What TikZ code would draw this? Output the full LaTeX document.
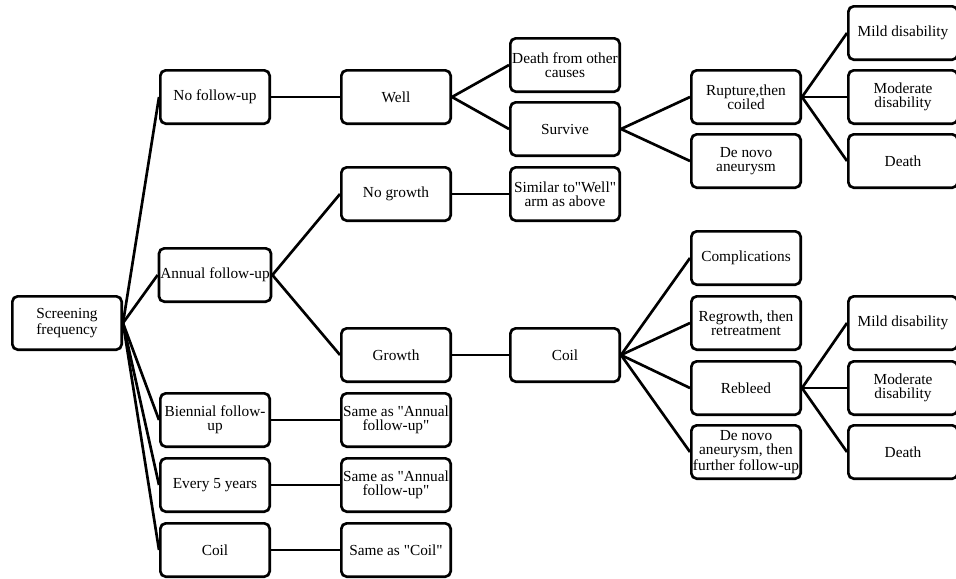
\documentclass[tikz,border=0pt]{standalone}
\usepackage{fontspec}
\setmainfont{Liberation Serif}[Ligatures=TeXOff]
\usetikzlibrary{positioning}
\definecolor{EdgeBlack}{RGB}{0,0,0}
\tikzset{
  box/.style={draw=EdgeBlack,rounded corners=4pt,line width=2pt,
    minimum width=82pt,minimum height=40pt,inner sep=1pt,align=center,
    font=\fontsize{11.5}{10.5}\selectfont},
  link/.style={line width=2pt,EdgeBlack}
}

\begin{document}
\begin{tikzpicture}[x=0.75pt,y=-0.75pt]
  \useasboundingbox (0,0) rectangle (956,578);

  % first level
  \node[box] (freq) at (67,323) {Screening\\frequency};
  \node[box] (nofollow) at (215,97) {No follow-up};
  \node[box] (annual) at (215,275) {Annual follow-up};
  \node[box] (biennial) at (215,420) {Biennial follow-\\up};
  \node[box] (fiveyears) at (215,485) {Every 5 years};
  \node[box] (coilnow) at (215,550) {Coil};

  % second level
  \node[box] (well) at (396,97) {Well};
  \node[box] (nogrowth) at (396,194) {No growth};
  \node[box] (growth) at (396,355) {Growth};
  \node[box] (samebien) at (396,420) {Same as "Annual\\follow-up"};
  \node[box] (samefive) at (396,485) {Same as "Annual\\follow-up"};
  \node[box] (samecoil) at (396,550) {Same as "Coil"};

  % third level
  \node[box] (otherdeath) at (565,65) {Death from other\\causes};
  \node[box] (survive) at (565,129) {Survive};
  \node[box] (similar) at (565,194) {Similar to"Well"\\arm as above};
  \node[box] (coil) at (565,355) {Coil};

  % fourth level
  \node[box] (rupture) at (746,97) {Rupture,then\\coiled};
  \node[box] (denovo) at (746,161) {De novo\\aneurysm};
  \node[box] (complic) at (746,258) {Complications};
  \node[box] (regrowth) at (746,323) {Regrowth, then\\retreatment};
  \node[box] (rebleed) at (746,388) {Rebleed};
  \node[box] (denovofu) at (746,452) {De novo\\aneurysm, then\\further follow-up};

  % outcomes
  \node[box] (mildA) at (903,33) {Mild disability};
  \node[box] (modA) at (903,97) {Moderate\\disability};
  \node[box] (deathA) at (903,161) {Death};
  \node[box] (mildB) at (903,323) {Mild disability};
  \node[box] (modB) at (903,388) {Moderate\\disability};
  \node[box] (deathB) at (903,452) {Death};

  \foreach \to in {nofollow,annual,biennial,fiveyears,coilnow}
    \draw[link] (freq.east) -- (\to.west);
  \draw[link] (nofollow) -- (well);
  \draw[link] (annual.east) -- (nogrowth.west);
  \draw[link] (annual.east) -- (growth.west);
  \draw[link] (biennial) -- (samebien);
  \draw[link] (fiveyears) -- (samefive);
  \draw[link] (coilnow) -- (samecoil);
  \draw[link] (well.east) -- (otherdeath.west);
  \draw[link] (well.east) -- (survive.west);
  \draw[link] (nogrowth) -- (similar);
  \draw[link] (growth) -- (coil);
  \draw[link] (survive.east) -- (rupture.west);
  \draw[link] (survive.east) -- (denovo.west);
  \foreach \to in {complic,regrowth,rebleed,denovofu}
    \draw[link] (coil.east) -- (\to.west);
  \foreach \to in {mildA,modA,deathA}
    \draw[link] (rupture.east) -- (\to.west);
  \foreach \to in {mildB,modB,deathB}
    \draw[link] (rebleed.east) -- (\to.west);
\end{tikzpicture}
\end{document}
